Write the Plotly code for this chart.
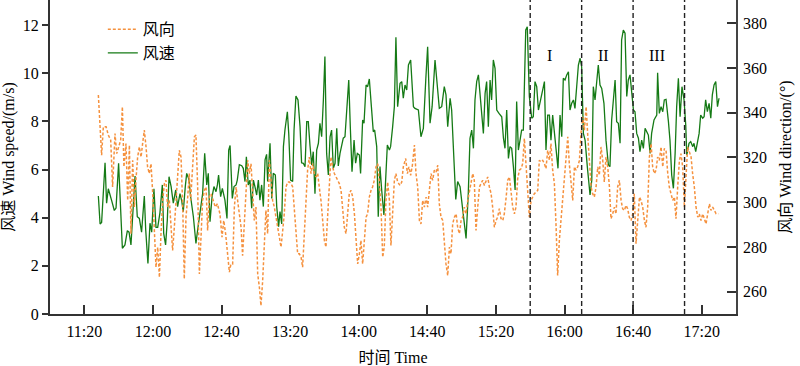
import pandas as pd
import plotly.graph_objects as go

# ---- data (minutes after 11:00) ----
speed_t = [28.2, 29.2, 30.1, 32.1, 33.0, 34.0, 36.0, 37.5, 38.5, 40.0, 42.2, 43.7, 45.1, 46.1, 47.2,
           49.6, 50.9, 52.1, 53.4, 55.0, 55.8, 57.1, 58.3, 59.3, 60.6, 61.8, 62.8, 64.1, 65.5, 66.3,
           67.4, 68.4, 69.4, 70.6, 71.9, 73.3, 74.4, 75.8, 76.8, 77.7, 78.9, 79.7, 81.0, 82.0, 83.6,
           85.1, 86.1, 87.5, 89.0, 90.2, 91.4, 92.3, 93.3, 94.5, 95.6, 96.8, 97.6, 98.3, 99.5, 100.5,
           102.0, 103.2, 104.2, 105.0, 106.3, 107.3, 108.5, 109.2, 110.4, 111.8, 112.7, 113.7, 114.5,
           115.6, 116.6, 117.6, 118.6, 119.5, 120.5, 121.5, 122.4, 123.4, 124.4, 125.4, 126.3, 126.9,
           128.3, 129.3, 130.2, 131.4, 132.2, 133.3, 134.1, 135.1, 136.1, 137.0, 138.4, 139.2, 140.3,
           141.5, 142.3, 143.4, 144.6, 145.8, 146.7, 147.7, 148.7, 149.7, 150.6, 151.6, 152.6, 153.5,
           154.5, 155.5, 156.5, 157.4, 158.4, 159.4, 160.3, 161.3, 162.3, 163.3, 164.2, 165.2, 166.2,
           167.2, 168.1, 169.1, 170.1, 171.0, 172.0, 173.0, 174.2, 175.1, 176.1, 177.3, 178.2, 179.2,
           180.4, 181.1, 182.3, 183.1, 184.3, 185.2, 186.2, 187.4, 188.5, 189.3, 190.5, 191.4, 192.4,
           193.4, 194.7, 195.7, 196.7, 197.9, 198.6, 199.8, 200.8, 201.7, 202.7, 204.1, 205.1, 206.0,
           207.0, 208.0, 209.0, 210.3, 211.9, 212.8, 214.8, 216.3, 217.7, 219.1, 220.2, 221.6, 222.8,
           224.5, 225.9, 227.0, 228.4, 229.9, 230.9, 231.9, 233.3, 234.2, 236.6, 237.7, 239.1, 240.6,
           242.6, 243.9, 244.9, 245.9, 246.9, 247.8, 248.8, 249.8, 250.7, 251.7, 252.7, 253.7, 254.6,
           255.6, 256.6, 257.5, 258.5, 259.5, 260.5, 261.8, 263.4, 264.4, 265.3, 266.3, 267.3, 268.2,
           269.2, 270.2, 271.2, 272.1, 273.1, 274.1, 275.0, 276.0, 277.4, 278.3, 279.5, 280.9, 281.8,
           282.8, 283.8, 284.8, 286.1, 287.3, 288.3, 289.2, 290.2, 291.2, 292.1, 293.1, 294.1, 295.1,
           296.2, 297.4, 298.4, 299.3, 300.3, 301.3, 302.3, 303.2, 304.2, 305.2, 306.1, 307.1, 308.1,
           309.1, 310.0, 311.0, 312.0, 313.3, 314.9, 315.9, 316.8, 317.8, 318.8, 319.7, 320.7, 321.7,
           323.0, 324.2, 325.6, 326.5, 327.5, 328.5, 329.5, 330.4, 331.4, 332.4, 333.3, 334.3, 335.3,
           336.3, 337.2, 338.2, 339.2, 340.2, 341.1, 342.1, 343.1, 344.0, 345.0, 346.0, 347.0, 347.9,
           348.9, 349.9, 350.8, 352.2, 353.8, 354.3, 355.3, 356.3, 357.3, 358.2, 359.2, 360.6, 361.5,
           362.5, 363.5, 364.5, 365.4, 366.4, 367.4, 368.5, 369.7, 370.7, 371.3, 372.6, 373.6, 374.8,
           375.5, 376.5, 377.5, 378.5, 379.4, 380.6, 381.4, 382.3, 383.3, 384.3, 385.3, 386.2, 387.2,
           388.2, 389.2, 390.1]
speed = [4.9, 3.74, 3.8, 6.28, 4.6, 5.2, 4.7, 4.3, 4.4, 6.26, 2.73, 2.87, 3.46, 3.4, 2.87,
         5.73, 4.04, 3.97, 3.4, 4.9, 3.5, 2.1, 3.77, 3.4, 5.2, 3.6, 3.6, 4.2, 5.36, 3.35,
         2.87, 3.9, 5.7, 5.3, 4.6, 5.15, 4.46, 5.0, 4.7, 4.25, 5.3, 5.84, 5.6, 4.87, 4.04,
         2.93, 3.5, 4.3, 5.0, 6.67, 5.36, 5.84, 3.83, 4.87, 5.29, 5.08, 5.36, 5.77, 4.87, 5.22,
         4.73, 3.97, 6.81, 7.0, 4.8, 5.29, 5.36, 5.56, 6.2, 6.16, 6.05, 5.5, 6.53,
         5.36, 5.56, 4.39, 5.56, 5.29, 4.94, 5.56, 4.73, 5.36, 4.46, 6.4, 6.63, 5.5,
         7.09, 4.8, 5.84, 5.77, 4.46, 3.63, 4.25, 3.74, 6.95, 7.64, 8.4, 7.5, 5.56,
         5.5, 7.64, 9.05, 8.89, 7.78, 6.28, 6.26, 6.12, 7.99, 7.99, 7.0, 6.19, 6.74,
         5.0, 6.81, 7.09, 7.92, 7.36, 8.89, 10.69, 6.67, 5.77, 7.36, 7.64, 6.05, 6.26,
         7.71, 6.15, 6.67, 7.09, 7.3, 7.36, 8.4, 9.72, 7.78, 5.91, 7.22, 6.26, 6.67,
         6.6, 5.84, 8.06, 7.92, 9.51, 9.44, 9.76, 8.61, 7.57, 7.64, 6.95, 4.04, 6.12,
         5.15, 4.11, 5.56, 7.02, 6.81, 6.95, 7.78, 8.61, 11.49, 8.61, 9.58, 9.65, 8.96,
         9.51, 9.3, 10.34, 10.55, 8.61, 8.54, 8.47, 7.36, 7.71, 9.72, 11.1, 7.92, 8.61,
         10.55, 9.58, 8.54, 8.61, 9.44, 9.1, 7.78, 8.96, 8.47, 4.76, 5.5, 5.29, 4.46,
         3.14, 5.01, 7.3, 7.64, 6.88, 8.89, 9.65, 9.93, 9.23, 8.47, 7.5, 9.16, 9.65,
         7.78, 9.72, 8.89, 10.55, 10.2, 8.47, 8.33, 8.19, 7.3, 6.88, 8.47, 6.46, 6.95,
         6.88, 6.12, 5.15, 8.82, 6.81, 7.23, 7.64, 7.64, 11.8, 11.93, 9.03, 8.13, 8.19,
         9.65, 9.44, 8.47, 8.96, 9.3, 9.65, 6.81, 8.26, 8.26, 7.22, 8.26, 7.57, 6.95,
         6.05, 8.26, 7.36, 9.79, 9.72, 9.93, 10.06, 8.47, 8.75, 8.89, 8.54, 9.44, 10.34,
         10.62, 10.27, 7.5, 7.22, 6.12, 4.94, 5.56, 9.44, 8.89, 9.72, 10.34, 9.51, 9.37,
         8.75, 7.22, 6.19, 6.12, 8.06, 9.03, 9.72, 7.99, 7.92, 7.09, 11.38, 11.79, 11.66,
         9.03, 9.72, 9.93, 9.3, 8.47, 8.4, 7.5, 7.3, 6.74, 7.22, 6.88, 7.71, 7.57,
         7.43, 6.67, 7.5, 8.06, 8.26, 10.02, 8.33, 8.61, 8.4, 8.89, 8.91, 7.99, 7.22,
         5.77, 5.22, 6.67, 8.61, 9.79, 8.19, 9.44, 8.89, 7.85, 6.6, 7.09, 7.16, 6.95,
         7.09, 6.74, 7.22, 7.5, 8.26, 8.13, 8.19, 8.89, 8.4, 8.75, 8.13, 9.1, 9.51,
         9.65, 8.61, 8.96]

dir_t = [28.2, 29.2, 30.1, 31.1, 32.7, 34.0, 35.4, 36.5, 37.9, 38.9, 40.0, 41.2, 42.2, 43.1, 44.3,
         45.3, 46.3, 47.2, 48.2, 49.2, 50.1, 51.1, 52.1, 53.1, 54.0, 55.0, 56.0, 56.9, 57.9, 58.9,
         59.9, 60.8, 61.8, 62.8, 63.8, 64.7, 65.7, 66.7, 67.6, 68.6, 69.6, 70.6, 71.5, 72.5, 73.5,
         74.4, 75.4, 76.4, 77.4, 78.3, 79.3, 80.3, 81.2, 82.0, 83.0, 84.2, 85.1, 86.1, 87.1, 88.0,
         89.0, 90.0, 91.0, 91.9, 92.9, 93.9, 95.2, 96.4, 97.6, 99.1, 100.3, 101.3, 102.4, 103.6,
         104.6, 105.5, 106.5, 107.5, 108.5, 109.4, 110.4, 111.4, 112.3, 113.3, 114.3, 115.3, 116.2,
         117.2, 118.2, 119.1, 120.1, 121.1, 122.1, 123.0, 124.0, 125.0, 125.9, 126.9, 127.9, 128.9,
         129.8, 130.8, 131.8, 132.8, 133.7, 134.7, 135.7, 136.6, 137.6, 138.6, 139.6, 140.5, 141.5,
         142.5, 143.4, 144.4, 145.4, 146.4, 147.3, 148.3, 149.3, 150.2, 151.2, 152.2, 153.2, 154.1,
         155.1, 156.1, 157.0, 158.0, 159.0, 160.0, 160.9, 161.9, 162.9, 163.8, 164.8, 165.8, 166.8,
         167.7, 168.7, 169.7, 170.7, 171.6, 172.6, 173.6, 174.5, 175.5, 176.5, 177.5, 178.4, 179.4,
         180.4, 181.3, 182.3, 183.3, 184.3, 185.2, 186.2, 187.2, 188.1, 189.1, 190.1, 191.1, 192.0,
         193.0, 194.0, 194.9, 195.9, 196.9, 197.9, 198.8, 199.8, 200.8, 201.7, 202.7, 204.1, 205.1,
         206.0, 207.4, 208.4, 209.3, 210.3, 211.3, 212.5, 213.4, 214.4, 215.4, 216.3, 217.3, 218.3,
         219.3, 220.2, 221.2, 222.2, 223.1, 224.1, 225.1, 226.1, 227.0, 228.0, 229.0, 229.9, 230.9,
         231.9, 232.9, 233.8, 234.8, 235.8, 236.8, 237.7, 238.7, 239.7, 240.6, 241.6, 242.6, 243.6,
         244.5, 245.5, 246.5, 247.4, 248.4, 249.4, 250.4, 251.3, 252.3, 253.3, 254.2, 255.2, 256.2,
         257.2, 258.1, 259.1, 260.1, 261.0, 262.0, 263.0, 264.0, 264.9, 265.9, 266.9, 267.9, 268.8,
         269.8, 270.8, 271.7, 272.7, 273.7, 274.7, 275.6, 276.6, 277.6, 278.5, 279.5, 280.5, 281.5,
         282.4, 283.4, 284.4, 285.3, 286.3, 287.3, 288.3, 289.2, 290.2, 291.2, 292.1, 293.1, 294.1,
         295.1, 296.0, 297.0, 298.0, 298.9, 299.9, 300.9, 301.9, 302.8, 303.8, 304.8, 305.8, 306.7,
         307.7, 308.7, 309.6, 310.6, 311.6, 312.6, 313.5, 314.5, 315.5, 316.4, 317.4, 318.4, 319.4,
         320.3, 321.3, 322.3, 323.2, 324.2, 325.2, 326.2, 327.1, 328.1, 329.1, 330.0, 331.0, 332.0,
         333.0, 333.9, 334.9, 335.9, 336.8, 337.8, 338.8, 339.8, 340.7, 341.7, 342.7, 343.7, 344.6,
         345.6, 346.6, 347.5, 348.5, 349.5, 350.5, 351.4, 352.4, 353.4, 354.3, 355.3, 356.3, 357.3,
         358.2, 359.2, 360.2, 361.1, 362.1, 363.1, 364.1, 365.0, 366.0, 367.0, 367.9, 368.9, 369.9,
         370.9, 371.8, 372.8, 373.8, 374.7, 375.7, 376.7, 377.7, 378.6, 379.6, 380.6, 381.6, 382.5,
         383.5, 384.5, 385.4, 386.4, 387.4, 388.4, 389.7]
direction = [347.9, 330.7, 321.0, 333.7, 333.7, 330.0, 327.7, 306.8, 330.7, 321.7, 324.7, 327.7, 342.7, 315.8, 326.2,
             300.8, 325.5, 285.9, 318.7, 297.8, 309.8, 320.2, 324.7, 320.2, 326.2, 332.2, 324.7, 315.8, 312.8, 317.2,
             303.8, 287.4, 270.9, 279.9, 266.4, 285.9, 300.8, 308.3, 309.8, 297.8, 300.8, 288.8, 278.4, 288.8, 300.8,
             312.8, 323.2, 320.2, 297.8, 265.7, 293.3, 302.3, 312.8, 300.8, 312.8, 329.2, 330.0, 306.8, 267.9, 285.9,
             300.8, 305.3, 306.8, 287.4, 302.3, 303.8, 300.8, 297.8, 299.3, 294.8, 284.4, 291.8, 285.9, 276.9,
             268.7, 272.4, 272.4, 297.8, 306.8, 300.8, 294.8, 288.8, 276.1, 288.8, 306.8, 318.7, 312.8,
             317.2, 303.8, 291.8, 297.8, 267.9, 261.9, 253.7, 264.9, 281.4, 296.3, 285.9, 318.7, 309.8,
             300.8, 297.8, 293.3, 287.4, 284.4, 279.9, 287.4, 294.8, 306.8, 309.0, 309.0, 308.3, 306.8,
             297.8, 288.8, 276.9, 276.9, 275.4, 270.9, 285.9, 303.8, 314.3, 320.2, 312.8, 317.2, 312.8,
             311.3, 312.8, 306.8, 300.8, 291.8, 282.9, 279.9, 293.3, 309.8, 320.2, 315.8, 312.8, 311.3,
             309.8, 308.3, 305.3, 297.8, 288.8, 285.9, 297.8, 303.8, 305.3, 302.3, 294.8, 282.9, 272.4,
             276.9, 282.9, 272.4, 282.9, 293.3, 294.8, 302.3, 305.3, 306.8, 309.8, 315.8, 317.2, 309.8,
             297.8, 275.4, 279.9, 300.8, 309.0, 300.8, 280.6, 297.8, 309.8, 312.8, 309.0, 307.5, 309.0,
             315.8, 319.5, 312.8, 315.8, 312.0, 316.5, 325.5, 312.8, 306.8, 291.8, 290.3, 300.8, 297.8,
             302.3, 297.8, 306.8, 312.8, 309.8, 314.3, 313.5, 316.5, 299.3, 293.3, 291.8, 279.9, 272.4,
             267.2, 279.9, 276.9, 290.3, 293.3, 294.8, 288.8, 285.9, 291.8, 293.3, 297.8, 294.8, 300.8,
             304.5, 309.8, 312.8, 309.8, 287.4, 297.8, 306.8, 308.3, 309.8, 307.5, 309.8, 311.3, 306.8,
             303.8, 297.8, 288.8, 291.8, 293.3, 297.1, 292.6, 291.8, 294.8, 301.6, 309.8, 311.3, 305.3,
             297.8, 294.8, 297.8, 310.5, 314.3, 315.0, 317.2, 328.5, 315.8, 300.8, 293.3, 300.8, 302.3,
             303.8, 304.5, 305.3, 318.7, 318.0, 318.7, 317.2, 315.0, 323.2, 318.7, 326.2, 314.3, 308.3,
             288.8, 267.2, 282.9, 291.8, 300.8, 311.3, 320.2, 329.2, 317.2, 309.8, 300.8, 315.8, 314.3,
             315.8, 318.7, 330.7, 338.2, 332.2, 342.7, 330.7, 315.8, 306.8, 303.8, 302.3, 306.8, 315.8,
             312.0, 324.7, 318.7, 309.0, 320.2, 315.8, 306.8, 292.6, 294.8, 297.8, 294.8, 306.8, 309.8,
             300.8, 297.1, 296.3, 298.6, 297.1, 293.3, 291.8, 294.8, 303.8, 281.4, 293.3, 302.3, 300.8,
             297.8, 291.8, 288.8, 297.8, 320.2, 326.2, 315.8, 312.8, 314.3, 320.2, 318.7, 324.7, 315.8,
             324.0, 323.2, 312.8, 306.8, 303.8, 300.8, 302.3, 292.6, 306.8, 318.7, 321.7, 315.8, 297.8,
             315.0, 324.7, 322.5, 320.2, 312.8, 306.8, 297.8, 293.3, 294.8, 291.8, 294.8, 291.8, 290.3,
             294.8, 299.3, 296.3, 297.8, 296.3, 294.8, 294.8]

tick_labels = ["11:20", "12:00", "12:40", "13:20", "14:00", "14:40", "15:20", "16:00", "16:40", "17:20"]
stage_bounds = ["15:40", "16:10", "16:40", "17:10"]
stage_labels = ["I", "II", "III"]
stage_label_times = ["15:51", "16:23", "16:54"]
x_range = ["11:00", "17:40"]

DAY = "2021-01-01 "
base = pd.Timestamp(DAY + "11:00")


def mins(ts):
    return [base + pd.Timedelta(minutes=m) for m in ts]


def hm(s):
    return pd.Timestamp(DAY + s)


FONT = "'Liberation Serif', 'Times New Roman', 'Noto Sans CJK SC', serif"

fig = go.Figure()
fig.add_trace(go.Scatter(
    x=mins(dir_t), y=direction, name="风向", yaxis="y2", mode="lines",
    line=dict(color="#F5913E", width=1.5, dash="3px,2px"),
))
fig.add_trace(go.Scatter(
    x=mins(speed_t), y=speed, name="风速", mode="lines",
    line=dict(color="#157A15", width=1.3),
))

for b in stage_bounds:
    fig.add_shape(type="line", xref="x", yref="paper", x0=hm(b), x1=hm(b), y0=0, y1=1,
                  line=dict(color="#222222", width=1.4, dash="5px,3px"))

for lab, t in zip(stage_labels, stage_label_times):
    fig.add_annotation(x=hm(t), xref="x", y=1 - 45 / 314, yref="paper", text=lab,
                       showarrow=False, font=dict(family=FONT, size=16, color="black"))

fig.update_layout(
    width=800, height=366,
    margin=dict(l=50, r=64, t=0, b=52, autoexpand=False),
    plot_bgcolor="white", paper_bgcolor="white",
    font=dict(family=FONT, size=16, color="black"),
    showlegend=True,
    legend=dict(x=0.077, y=0.961, xanchor="left", yanchor="top",
                bgcolor="rgba(0,0,0,0)", font=dict(family=FONT, size=16),
                tracegroupgap=0),
    xaxis=dict(
        type="date", range=[hm(x_range[0]), hm(x_range[1])], automargin=False,
        tickvals=[hm(s) for s in tick_labels], ticktext=tick_labels,
        ticks="inside", ticklen=9, tickwidth=1.5, tickcolor="#333",
        showline=True, linecolor="#333", linewidth=2, showgrid=False, zeroline=False,
        tickfont=dict(family=FONT, size=16), ticklabelstandoff=2,
        title=dict(text="时间 Time", font=dict(family=FONT, size=16), standoff=14),
    ),
    yaxis=dict(
        range=[0, 13.04], tickvals=[0, 2, 4, 6, 8, 10, 12], automargin=False,
        ticks="outside", ticklen=6, tickwidth=1.5, tickcolor="#333",
        showline=True, linecolor="#333", linewidth=2, showgrid=False, zeroline=False,
        tickfont=dict(family=FONT, size=16),
        title=dict(text="风速 Wind speed/(m/s)", font=dict(family=FONT, size=16), standoff=6),
    ),
    yaxis2=dict(
        range=[250, 390.4], tickvals=[260, 280, 300, 320, 340, 360, 380], automargin=False,
        overlaying="y", side="right",
        ticks="inside", ticklen=9, tickwidth=1.5, tickcolor="#333",
        showline=True, linecolor="#444", linewidth=1.5, showgrid=False, zeroline=False,
        tickfont=dict(family=FONT, size=16), ticklabelstandoff=2,
        title=dict(text="风向 Wind direction/(°)", font=dict(family=FONT, size=16), standoff=14),
    ),
)

fig.write_html(
    "out.html",
    config={"displayModeBar": False},
    post_script="document.body.style.margin='0';document.body.style.overflow='hidden';",
)
